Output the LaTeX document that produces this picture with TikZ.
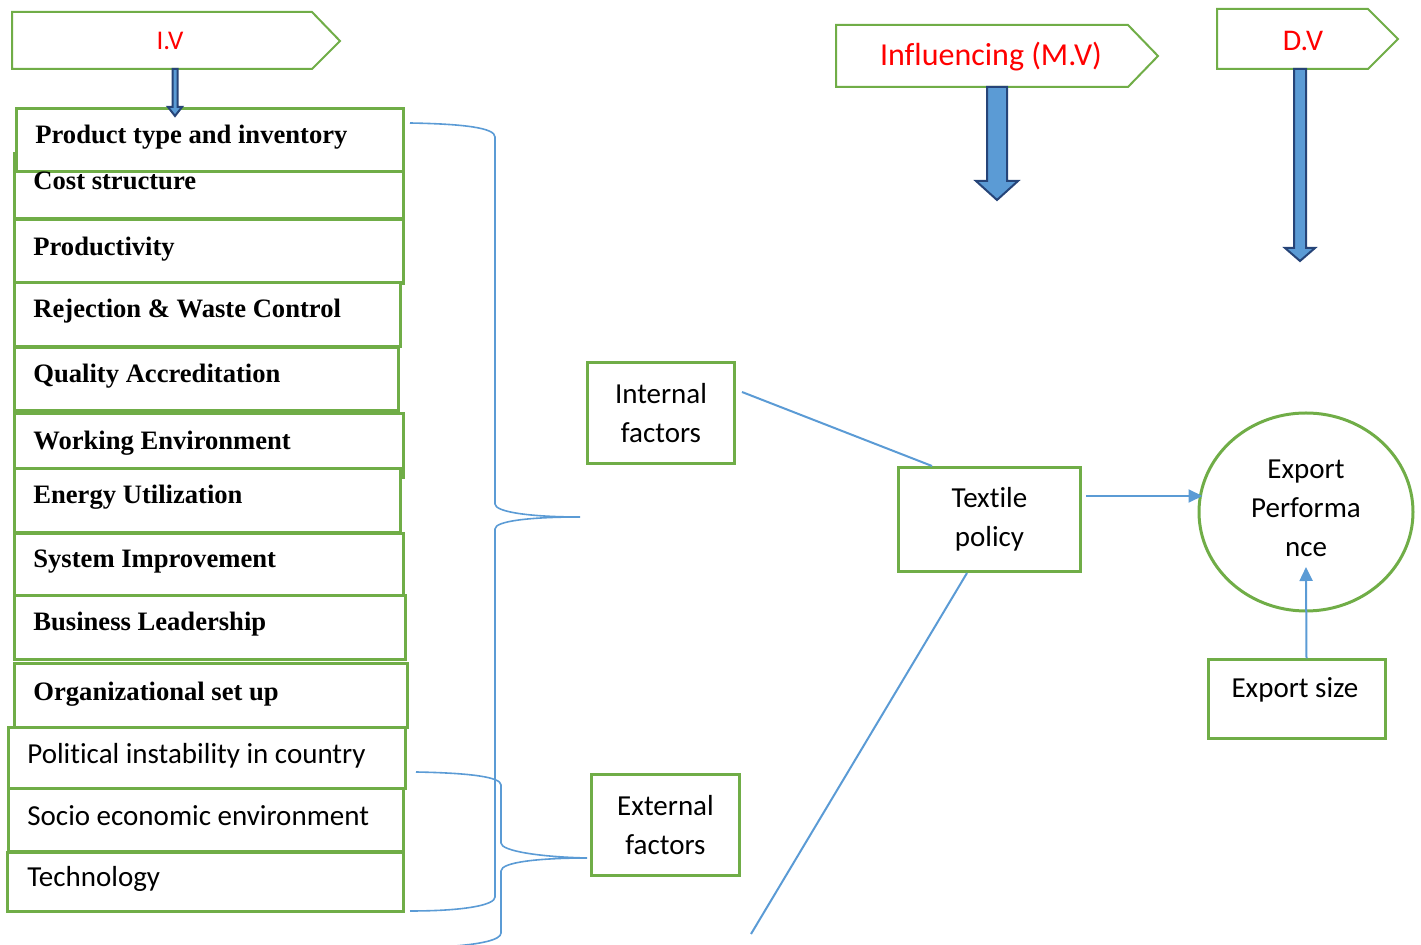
\documentclass[tikz,border=0pt]{standalone}
\usepackage{fontspec}
\setmainfont{Liberation Serif}
\newfontfamily\calibri[Ligatures=CommonOff]{Carlito}
\usetikzlibrary{arrows.meta,shapes.geometric}
\definecolor{ggreen}{HTML}{70AD47}
\definecolor{lblue}{HTML}{5B9BD5}
\definecolor{dblue}{HTML}{264478}
\begin{document}
\begin{tikzpicture}[x=0.5pt,y=-0.5pt,
  box/.style={draw=ggreen, line width=1.5pt, fill=white, inner sep=0pt, anchor=north west},
  bt/.style={anchor=base west, inner sep=0pt, font=\fontsize{13.3}{15}\selectfont\bfseries},
  st/.style={anchor=base west, inner sep=0pt, font=\calibri\fontsize{14.5}{17}\selectfont},
  cbox/.style={draw=ggreen, line width=1.5pt, fill=white, inner sep=0pt, align=center, font=\calibri\fontsize{14.5}{19.5}\selectfont},
  ctext/.style={inner sep=0pt, align=center, font=\calibri\fontsize{14.5}{19.5}\selectfont},
  pent/.style={draw=ggreen, line width=1pt, fill=white},
  rtext/.style={inner sep=0pt, text=red, font=\calibri},
  blk/.style={fill=lblue, draw=dblue, line width=1pt, line join=miter},
  conn/.style={draw=lblue, line width=1pt},
  brace/.style={draw=lblue, line width=0.8pt},
  tip/.style={-{Triangle[length=7pt,width=6.5pt]}}]
\useasboundingbox (0,0) rectangle (1421,945);

% pentagons
\draw[pent] (12,12) -- (312,12) -- (340,41) -- (312,69) -- (12,69) -- cycle;
\node[rtext, font=\calibri\fontsize{13.5}{15}\selectfont] (iv) at (170,41) {I.V};
\draw[pent] (836,25) -- (1128,25) -- (1158,56) -- (1128,87) -- (836,87) -- cycle;
\node[rtext, font=\calibri\fontsize{16}{18}\selectfont] (mv) at (991,57) {Influencing (M.V)};
\draw[pent] (1217,9) -- (1368,9) -- (1398,39) -- (1368,69) -- (1217,69) -- cycle;
\node[rtext, font=\calibri\fontsize{15}{17}\selectfont] (dv) at (1303,41) {D.V};

% left boxes
\node[box, minimum width=194.5pt, minimum height=32.5pt] (b2) at (12.5,152.5) {};
\node[box, minimum width=193.5pt, minimum height=31.5pt] (b1) at (14.5,107.5) {};
\node[box, minimum width=194.5pt, minimum height=32pt] (b3) at (12.5,218.5) {};
\node[box, minimum width=193pt, minimum height=32pt] (b4) at (12.5,281.5) {};
\node[box, minimum width=192pt, minimum height=31.5pt] (b5) at (12.5,346.5) {};
\node[box, minimum width=194.5pt, minimum height=32pt] (b6) at (12.5,412.5) {};
\node[box, minimum width=193pt, minimum height=32pt] (b7) at (12.5,467.5) {};
\node[box, minimum width=194.5pt, minimum height=31pt] (b8) at (12.5,532.5) {};
\node[box, minimum width=195.5pt, minimum height=32pt] (b9) at (12.5,594.5) {};
\node[box, minimum width=196.5pt, minimum height=32pt] (b10) at (12.5,662.5) {};
\node[box, minimum width=198.5pt, minimum height=30.5pt] (b11) at (6.5,726.5) {};
\node[box, minimum width=197.5pt, minimum height=31.5pt] (b12) at (6.5,787.5) {};
\node[box, minimum width=198pt, minimum height=29.5pt] (b13) at (5.5,851.5) {};

\node[bt] (t1) at (35,144) {Product type and inventory};
\node[bt] (t2) at (33,190) {Cost structure};
\node[bt] (t3) at (33,256) {Productivity};
\node[bt] (t4) at (33,318) {Rejection \& Waste Control};
\node[bt] (t5) at (33,383) {Quality Accreditation};
\node[bt] (t6) at (33,450) {Working Environment};
\node[bt] (t7) at (33,504) {Energy Utilization};
\node[bt] (t8) at (33,568) {System Improvement};
\node[bt] (t9) at (33,631) {Business Leadership};
\node[bt] (t10) at (33,701) {Organizational set up};
\node[st] (t11) at (27,764) {Political instability in country};
\node[st] (t12) at (27,826) {Socio economic environment};
\node[st] (t13) at (27,887) {Technology};

% block arrows
\draw[blk] (172.5,69) -- (177.5,69) -- (177.5,107) -- (182,107) -- (175,116) -- (168,107) -- (172.5,107) -- cycle;
\draw[blk] (987,87) -- (1007,87) -- (1007,181) -- (1018,181) -- (997,200) -- (976,181) -- (987,181) -- cycle;
\draw[blk] (1294,69) -- (1306,69) -- (1306,248) -- (1315,248) -- (1300,261) -- (1285,248) -- (1294,248) -- cycle;

% braces
\coordinate (itip) at (580,517);
\coordinate (etip) at (587,858);
\draw[brace] (410,123) .. controls (465,124) and (495,128) .. (495,137) -- (495,504)
  .. controls (495,512) and (530,517) .. (itip)
  .. controls (530,517) and (495,521) .. (495,529) -- (495,897)
  .. controls (495,905) and (465,911) .. (410,911);
\draw[brace] (416,772) .. controls (470,773) and (501,777) .. (501,785) -- (501,843)
  .. controls (501,851) and (540,857) .. (etip)
  .. controls (540,858) and (501,862) .. (501,871) -- (501,933)
  .. controls (501,940) and (480,944) .. (455,946);

% right part
\node[cbox, minimum width=73.5pt, minimum height=50.5pt] (int) at (661,413) {Internal\\factors};
\node[cbox, minimum width=74pt, minimum height=50.5pt] (ext) at (665.5,825) {External\\factors};
\node[cbox, minimum width=91pt, minimum height=52pt] (tp) at (989.5,519.5) {Textile\\policy};
\node[ellipse, draw=ggreen, line width=1.5pt, minimum width=107pt, minimum height=99pt, inner sep=0pt] (ep) at (1306,512) {};
\node[ctext] (ept) at (1306,508) {Export\\Performa\\nce};
\node[box, minimum width=88.5pt, minimum height=39.5pt] (es) at (1206.5,658.5) {};
\node[ctext] (est) at (1295,690) {Export size};

\coordinate (lend) at (751,934);
\draw[conn] ([shift={(3pt,10.5pt)}]int.east) -- ([xshift=-28.75pt]tp.north);
\draw[conn] ([xshift=-11.25pt]tp.south) -- (lend);
\draw[conn, tip] ([shift={(2pt,11.75pt)}]tp.east) -- ([shift={(2.5pt,8pt)}]ep.west);
\draw[conn, tip] ([xshift=5pt]es.north) -- ([shift={(0pt,-27.5pt)}]ep.center);
\end{tikzpicture}
\end{document}
